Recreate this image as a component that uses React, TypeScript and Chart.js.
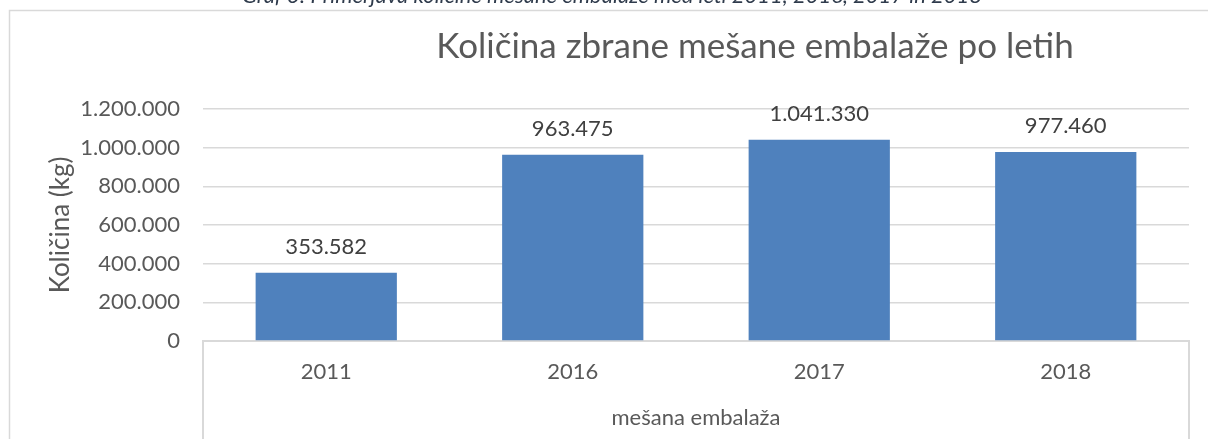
import React, { useEffect, useRef } from "react";
import { Chart, registerables } from "chart.js";

Chart.register(...registerables);

const categories = ["2011", "2016", "2017", "2018"];
const values = [353582, 963475, 1041330, 977460];
const groupLabel = "mešana embalaža";
const chartTitle = "Količina zbrane mešane embalaže po letih";
const yAxisTitle = "Količina (kg)";
const caption = "Graf 3: Primerjava količine mešane embalaže med leti 2011, 2016, 2017 in 2018";
const yMin = 0;
const yMax = 1200000;
const yStep = 200000;

const fmt = (v: number) => String(Math.round(v)).replace(/\B(?=(\d{3})+(?!\d))/g, ".");

const FONT = "Lato, 'Noto Sans', sans-serif";

const decorPlugin = {
  id: "decor",
  afterDraw(chart: any) {
    const { ctx, chartArea, width, height } = chart;
    ctx.save();
    // outer frame
    ctx.strokeStyle = "#d9d9d9";
    ctx.lineWidth = 1.5;
    ctx.strokeRect(9.5, 10.5, width + 50, height + 50);
    // caption (cut at top)
    ctx.fillStyle = "#2f3b4c";
    ctx.font = `italic 22px ${FONT}`;
    ctx.textAlign = "center";
    ctx.textBaseline = "alphabetic";
    ctx.fillText(caption, 612, 3);
    // chart title
    ctx.fillStyle = "#595959";
    ctx.font = `35px ${FONT}`;
    ctx.fillText(chartTitle, 755, 58);
    // category axis outer separators
    ctx.strokeStyle = "#d9d9d9";
    ctx.lineWidth = 2;
    ctx.beginPath();
    ctx.moveTo(chartArea.left, chartArea.bottom);
    ctx.lineTo(chartArea.left, height);
    ctx.moveTo(chartArea.right, chartArea.bottom);
    ctx.lineTo(chartArea.right, height);
    ctx.stroke();
    // data labels
    const meta = chart.getDatasetMeta(0);
    ctx.fillStyle = "#404040";
    ctx.font = `22px ${FONT}`;
    ctx.textAlign = "center";
    ctx.textBaseline = "middle";
    meta.data.forEach((bar: any, i: number) => {
      ctx.fillText(fmt(values[i]), bar.x, bar.y - 26);
    });
    ctx.restore();
  },
};

export default function App() {
  const ref = useRef<HTMLCanvasElement | null>(null);
  useEffect(() => {
    if (!ref.current) return;
    const chart = new Chart(ref.current, {
      type: "bar",
      data: {
        labels: categories,
        datasets: [
          {
            data: values,
            backgroundColor: "#4F81BD",
            barPercentage: 0.573,
            categoryPercentage: 1,
          },
        ],
      },
      options: {
        responsive: false,
        animation: false,
        layout: { padding: { left: 0, right: 19, top: 109, bottom: 0 } },
        plugins: {
          legend: { display: false },
          title: { display: false },
          tooltip: { enabled: false },
        },
        scales: {
          x: {
            grid: { display: false, drawTicks: false },
            border: { display: true, color: "#d9d9d9", width: 2 },
            ticks: { color: "#595959", font: { family: FONT, size: 22 }, padding: 18 },
            title: {
              display: true,
              text: groupLabel,
              color: "#595959",
              font: { family: FONT, size: 22 },
              padding: { top: 0, bottom: 8 },
            },
            afterFit(scale: any) {
              scale.height = 98;
            },
          },
          y: {
            min: yMin,
            max: yMax,
            grid: { color: "#d9d9d9", lineWidth: 1.5, drawTicks: false },
            border: { display: false },
            ticks: {
              stepSize: yStep,
              color: "#595959",
              font: { family: FONT, size: 22 },
              padding: 23,
              callback: (v: any) => fmt(Number(v)),
            },
            title: {
              display: true,
              text: yAxisTitle,
              color: "#595959",
              font: { family: FONT, size: 26 },
              padding: { top: 45, bottom: 0 },
            },
            afterFit(scale: any) {
              scale.width = 203;
            },
          },
        },
      },
      plugins: [decorPlugin],
    } as any);
    return () => chart.destroy();
  }, []);
  return (
    <div style={{ position: "fixed", left: 0, top: 0, width: 1208, height: 439, background: "#fff" }}>
      <canvas ref={ref} width={1208} height={439} style={{ display: "block" }} />
    </div>
  );
}
